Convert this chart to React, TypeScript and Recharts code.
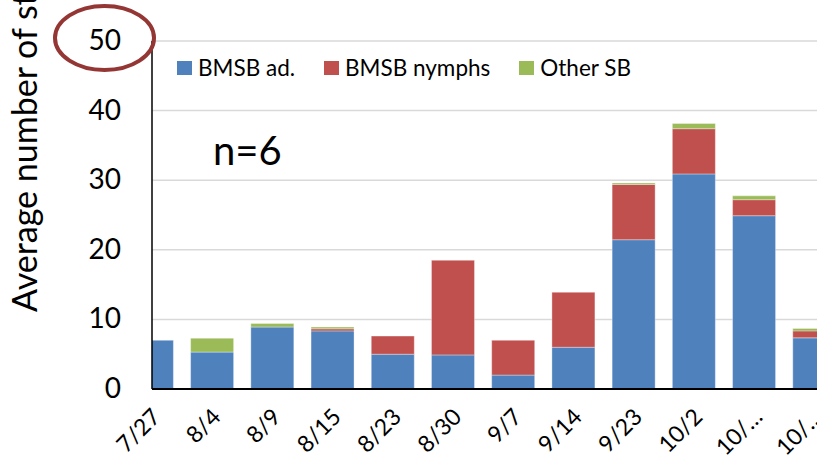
import React from "react";
import { Bar, BarChart, CartesianGrid, Legend, XAxis, YAxis } from "recharts";

const dates = ["7/27", "8/4", "8/9", "8/15", "8/23", "8/30", "9/7", "9/14", "9/23", "10/2", "10/…", "10/…"];
const adults = [7.0, 5.3, 8.9, 8.35, 5.0, 4.9, 2.0, 6.0, 21.45, 30.9, 24.9, 7.35];
const nymphs = [0, 0, 0, 0.3, 2.6, 13.6, 5.0, 7.9, 7.95, 6.5, 2.3, 1.0];
const otherSb = [0, 2.0, 0.5, 0.25, 0, 0, 0, 0, 0.2, 0.75, 0.55, 0.35];
const yTicks = [0, 10, 20, 30, 40, 50];

const BLUE = "#4F81BD";
const RED = "#C0504D";
const GREEN = "#9BBB59";
const FONT = "Lato, 'Open Sans', sans-serif";

const CHART_W = 844;
const CHART_H = 462;
const AXIS_W = 152;
const TOP = 41;
const X_AXIS_H = 73;

const series = [
  { key: "adults", name: "BMSB ad.", color: BLUE },
  { key: "nymphs", name: "BMSB nymphs", color: RED },
  { key: "other", name: "Other SB", color: GREEN },
];

const data = dates.map((date, i) => ({
  date,
  adults: adults[i],
  nymphs: nymphs[i],
  other: otherSb[i],
}));

type TickProps = { x?: number; y?: number; payload?: { value: string | number } };

// y ticks; the top value gets circled
function YTick(props: TickProps) {
  const x = props.x ?? 0;
  const y = props.y ?? 0;
  const v = props.payload?.value;
  return (
    <g>
      <text x={x} y={y} dy={9} textAnchor="end" fontFamily={FONT} fontSize={28} fill="#000">
        {v}
      </text>
      {v === 50 && (
        <ellipse cx={x - 16.5} cy={y - 3} rx={49.5} ry={32} fill="none" stroke="#943634" strokeWidth={4} />
      )}
    </g>
  );
}

function XTick(props: TickProps) {
  const x = (props.x ?? 0) + 4;
  const y = (props.y ?? 0) - 8;
  return (
    <g transform={`translate(${x},${y})`}>
      <text
        transform="rotate(-45)"
        textAnchor="end"
        dominantBaseline="central"
        fontFamily={FONT}
        fontSize={23}
        fill="#000"
      >
        {props.payload?.value}
      </text>
    </g>
  );
}

function LegendContent() {
  return (
    <div style={{ display: "flex", alignItems: "center", fontFamily: FONT, fontSize: 22.5, color: "#000" }}>
      {series.map((s) => (
        <div key={s.key} style={{ display: "flex", alignItems: "center", marginRight: 29 }}>
          <span style={{ width: 15, height: 14, background: s.color, marginRight: 6, display: "inline-block" }} />
          <span style={{ lineHeight: "26px" }}>{s.name}</span>
        </div>
      ))}
    </div>
  );
}

export default function App() {
  return (
    <div
      style={{
        position: "fixed",
        left: 0,
        top: 0,
        width: 817,
        height: 462,
        overflow: "hidden",
        background: "#fff",
      }}
    >
      <style>{`.recharts-bar-rectangles { clip-path: url(#plot-clip); }`}</style>
      <BarChart
        width={CHART_W}
        height={CHART_H}
        data={data}
        margin={{ top: TOP, right: 0, bottom: 0, left: 0 }}
        barSize={43}
      >
        <defs>
          {/* first category sits half behind the value axis */}
          <clipPath id="plot-clip">
            <rect x={AXIS_W} y={0} width={CHART_W - AXIS_W} height={CHART_H - X_AXIS_H} />
          </clipPath>
        </defs>
        <CartesianGrid vertical={false} stroke="#d9d9d9" strokeWidth={1.5} />
        <XAxis
          dataKey="date"
          height={X_AXIS_H}
          interval={0}
          tickLine={false}
          tickSize={0}
          tickMargin={31}
          tick={<XTick />}
          axisLine={{ stroke: "#000", strokeWidth: 2 }}
          padding={{ left: -30.6, right: 0 }}
        />
        <YAxis
          width={AXIS_W}
          domain={[0, 50]}
          ticks={yTicks}
          tickLine={false}
          tickSize={0}
          tickMargin={31}
          tick={<YTick />}
          axisLine={{ stroke: "#000", strokeWidth: 1.5 }}
        />
        <Legend
          layout="horizontal"
          verticalAlign="middle"
          align="center"
          content={<LegendContent />}
          wrapperStyle={{ top: 55, left: 177, width: "auto", height: "auto" }}
        />
        {series.map((s) => (
          <Bar
            key={s.key}
            dataKey={s.key}
            name={s.name}
            stackId="sb"
            fill={s.color}
            stroke="#ffffff"
            strokeOpacity={0.35}
            strokeWidth={1}
            isAnimationActive={false}
          />
        ))}
        <text x={213} y={165} fontFamily={FONT} fontSize={40} fill="#000">
          n=6
        </text>
        <text x={37} y={312} transform="rotate(-90 37 312)" fontFamily={FONT} fontSize={34} fill="#000">
          Average number of stink bugs per trap
        </text>
      </BarChart>
    </div>
  );
}
